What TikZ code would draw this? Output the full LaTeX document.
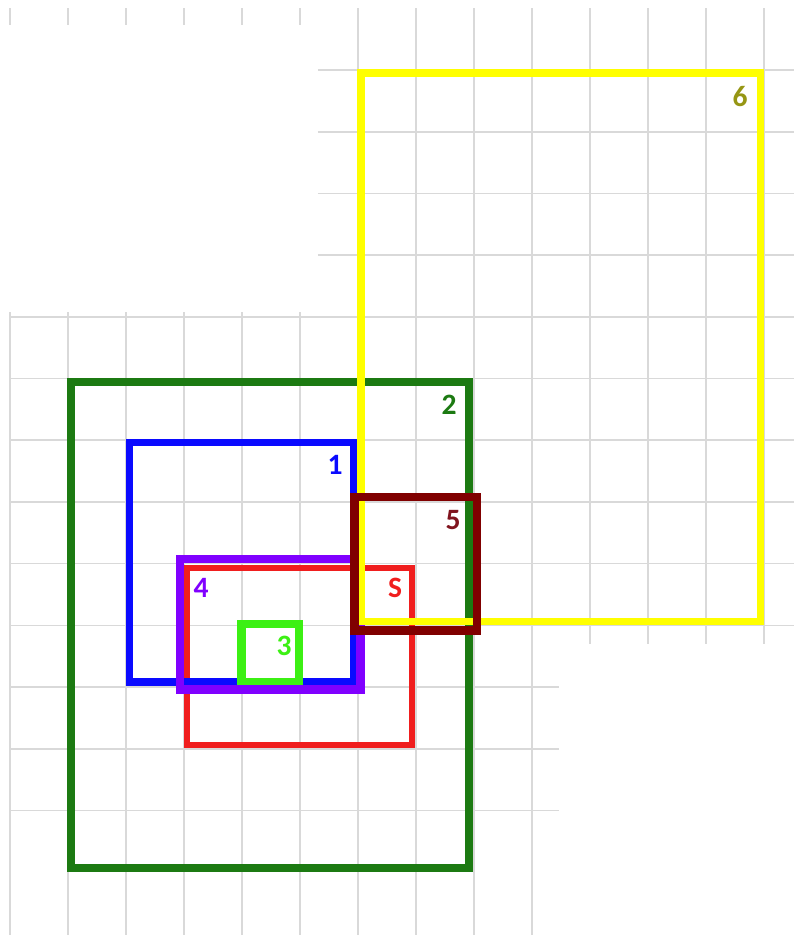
\documentclass[tikz,border=0pt]{standalone}
\usepackage{fontspec}
\setmainfont{Carlito}
\definecolor{gridgray}{RGB}{217,217,217}
\definecolor{boxgreen}{RGB}{28,122,18}
\definecolor{boxyellow}{RGB}{255,255,0}
\definecolor{boxblue}{RGB}{10,10,255}
\definecolor{boxpurple}{RGB}{128,0,255}
\definecolor{boxred}{RGB}{240,30,30}
\definecolor{boxdarkred}{RGB}{128,0,0}
\definecolor{boxlime}{RGB}{60,240,20}
\definecolor{labelolive}{RGB}{150,150,20}
\definecolor{labeldarkred}{RGB}{128,20,30}

\begin{document}
\begin{tikzpicture}[x=0.01cm, y=-0.01cm,
  every node/.style={font=\fontsize{8.4pt}{10pt}\selectfont\bfseries, inner sep=0pt},
  gridline/.style={draw=gridgray, line width=0.45pt}]
  \useasboundingbox (0,0) rectangle (794,935);
  \foreach \c in {0,...,5} \draw[gridline] ({10+58*\c},8) -- ({10+58*\c},25);
  \foreach \c in {6,...,13} \draw[gridline] ({10+58*\c},8) -- ({10+58*\c},644);
  \foreach \c in {0,...,9} \draw[gridline] ({10+58*\c},312) -- ({10+58*\c},935);
  \foreach \r in {1,...,10} \draw[gridline] (318,{8.3+61.7*\r}) -- (794,{8.3+61.7*\r});
  \foreach \r in {5,...,13} \draw[gridline] (10,{8.3+61.7*\r}) -- (559,{8.3+61.7*\r});
  \draw[boxgreen, line width=2.3pt]   (71,382) rectangle (469,868);
  \draw[boxred, line width=1.7pt]     (187,568) rectangle (412,744.5);
  \draw[boxblue, line width=2pt]      (129.5,442.5) rectangle (353.5,682);
  \draw[boxlime, line width=2.3pt]    (241.5,624) rectangle (299,682.5);
  \draw[boxpurple, line width=2.4pt]  (180,559) rectangle (360.5,689.5);
  \draw[boxyellow, line width=2pt]    (361,73) rectangle (760.5,621.5);
  \draw[boxdarkred, line width=2.3pt] (354.5,497) rectangle (477,630.5);
  \node[text=labelolive]   (l6) at (740,97)  {6};
  \node[text=boxgreen]     (l2) at (449,405) {2};
  \node[text=boxblue]      (l1) at (335,465) {1};
  \node[text=labeldarkred] (l5) at (453,520) {5};
  \node[text=boxred]       (lS) at (395,588) {S};
  \node[text=boxpurple]    (l4) at (201,588) {4};
  \node[text=boxlime]      (l3) at (284,646) {3};
\end{tikzpicture}
\end{document}
